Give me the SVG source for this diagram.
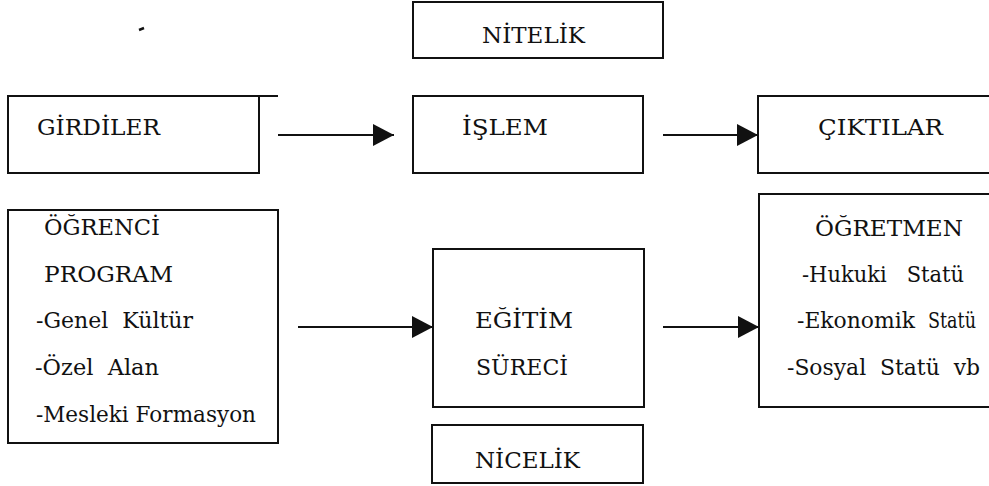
<svg xmlns="http://www.w3.org/2000/svg" width="989" height="486" viewBox="0 0 989 486">
<style>
.box{fill:#fff;stroke:#111;stroke-width:2}
.t{font-family:'DejaVu Serif','Liberation Serif',serif;font-size:23px;fill:#111;white-space:pre}
.c{stroke:#111;stroke-width:2;fill:none}
</style>
<defs>
<marker id="ah" markerUnits="userSpaceOnUse" markerWidth="22" markerHeight="22" refX="21" refY="11" orient="auto">
<path d="M0,0 L21,11 L0,22 Z" fill="#111"/>
</marker>
</defs>
<rect width="989" height="486" fill="#fff"/>
<line x1="139" y1="30" x2="144" y2="28" stroke="#111" stroke-width="2.5"/>
<g id="nitelik">
<rect class="box" x="413" y="2" width="250" height="56"/>
<text class="t" x="482" y="43" textLength="103" lengthAdjust="spacingAndGlyphs">NİTELİK</text>
</g>
<g id="girdiler">
<rect class="box" x="8" y="96" width="251" height="77"/>
<line class="c" x1="259" y1="96" x2="278" y2="96"/>
<text class="t" x="37" y="135" textLength="123" lengthAdjust="spacingAndGlyphs">GİRDİLER</text>
</g>
<g id="islem">
<rect class="box" x="413" y="96" width="230" height="77"/>
<text class="t" x="462" y="135" textLength="86" lengthAdjust="spacingAndGlyphs">İŞLEM</text>
</g>
<g id="ciktilar">
<rect class="box" x="758" y="96" width="240" height="77"/>
<text class="t" x="818" y="135" textLength="125" lengthAdjust="spacingAndGlyphs">ÇIKTILAR</text>
</g>
<g id="ogrenci">
<rect class="box" x="8" y="210" width="270" height="233"/>
<text class="t" x="44" y="235" textLength="116" lengthAdjust="spacingAndGlyphs">ÖĞRENCİ</text>
<text class="t" x="44" y="282" textLength="129" lengthAdjust="spacingAndGlyphs">PROGRAM</text>
<text class="t" x="36" y="328" textLength="157" lengthAdjust="spacingAndGlyphs">-Genel  Kültür</text>
<text class="t" x="35" y="375" textLength="124" lengthAdjust="spacingAndGlyphs">-Özel  Alan</text>
<text class="t" x="36" y="422" textLength="220" lengthAdjust="spacingAndGlyphs">-Mesleki Formasyon</text>
</g>
<g id="egitim">
<rect class="box" x="433" y="249" width="211" height="158"/>
<text class="t" x="475" y="328" textLength="98" lengthAdjust="spacingAndGlyphs">EĞİTİM</text>
<text class="t" x="476" y="375" textLength="92" lengthAdjust="spacingAndGlyphs">SÜRECİ</text>
</g>
<g id="nicelik">
<rect class="box" x="432" y="425" width="211" height="58"/>
<text class="t" x="475" y="468" textLength="105" lengthAdjust="spacingAndGlyphs">NİCELİK</text>
</g>
<g id="ogretmen">
<rect class="box" x="759" y="194" width="240" height="213"/>
<text class="t" x="815" y="236" textLength="148" lengthAdjust="spacingAndGlyphs">ÖĞRETMEN</text>
<text class="t" x="802" y="282" textLength="162" lengthAdjust="spacingAndGlyphs">-Hukuki   Statü</text>
<text class="t" x="797" y="328" textLength="118" lengthAdjust="spacingAndGlyphs">-Ekonomik</text>
<text class="t" x="928" y="328" textLength="48" lengthAdjust="spacingAndGlyphs">Statü</text>
<text class="t" x="787" y="375" textLength="193" lengthAdjust="spacingAndGlyphs">-Sosyal  Statü  vb</text>
</g>
<g id="connectors">
<line class="c" x1="278" y1="135" x2="394" y2="135" marker-end="url(#ah)"/>
<line class="c" x1="663" y1="135" x2="758" y2="135" marker-end="url(#ah)"/>
<line class="c" x1="298" y1="327" x2="433" y2="327" marker-end="url(#ah)"/>
<line class="c" x1="663" y1="327" x2="759" y2="327" marker-end="url(#ah)"/>
</g>
</svg>
